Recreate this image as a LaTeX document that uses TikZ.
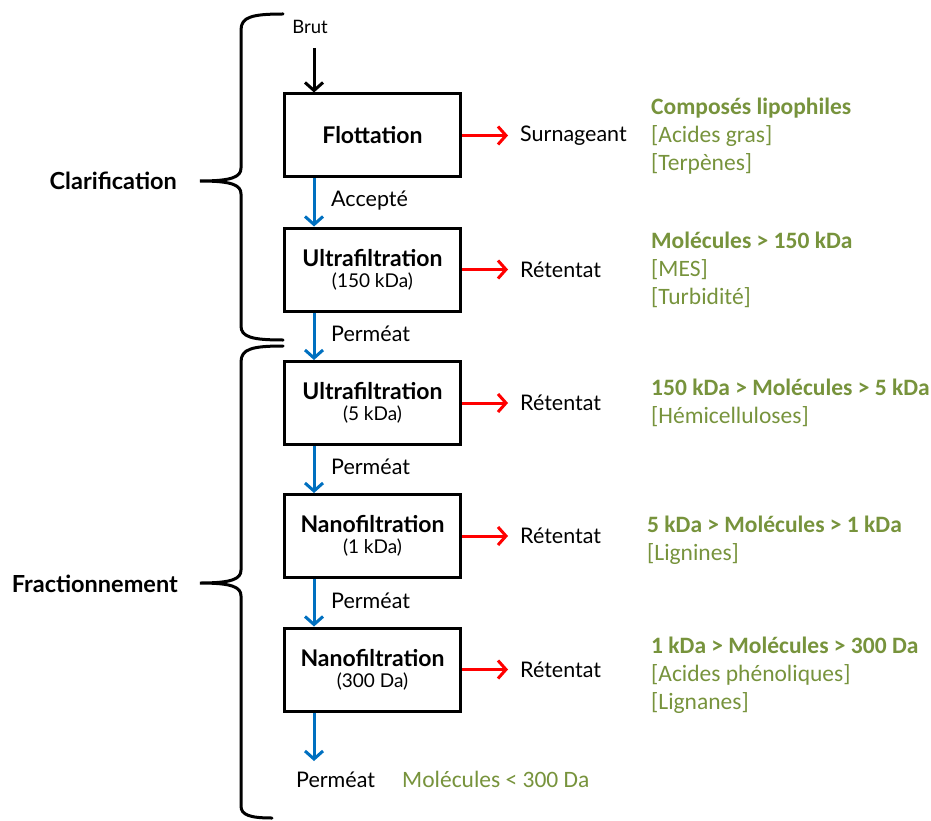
\documentclass[tikz,border=0pt]{standalone}
\usepackage{fontspec}
\setmainfont{Lato}
\newfontfamily\grfont{Carlito}
\usetikzlibrary{arrows.meta}
\definecolor{grn}{HTML}{77933C}
\definecolor{blu}{HTML}{0070C0}
\definecolor{rd}{HTML}{FF0000}
\tikzset{
  procbox/.style={draw, line width=3pt, minimum width=176pt, minimum height=83pt, align=center, inner sep=0pt},
  flowarrow/.style={line width=3pt, -{Straight Barb[length=8pt,width=18pt,line width=3pt]}},
  lbl/.style={font=\fontsize{21.5}{24}\selectfont, inner sep=0pt, anchor=west},
  grtxt/.style={font=\grfont\fontsize{23.5}{28}\selectfont, text=grn, inner sep=0pt, anchor=north west, align=left},
  brace/.style={line width=3pt, line cap=round},
  side/.style={font=\bfseries\fontsize{23.5}{26}\selectfont, inner sep=0pt}
}
\newcommand{\bt}[1]{{\bfseries\fontsize{23}{26}\selectfont #1}}
\newcommand{\st}[1]{{\fontsize{19}{22}\selectfont #1}}
\begin{document}
\begin{tikzpicture}[x=1pt,y=-1pt]
\useasboundingbox (0,0) rectangle (931,821);
% boxes
\node[procbox] (b1) at (372.5,135.5) {\bt{Flottation}};
\node[procbox] (b2) at (372.5,269.5) {\bt{Ultrafiltration}\\[5pt]\st{(150 kDa)}};
\node[procbox] (b3) at (372.5,403) {\bt{Ultrafiltration}\\[5pt]\st{(5 kDa)}};
\node[procbox] (b4) at (372.5,536) {\bt{Nanofiltration}\\[5pt]\st{(1 kDa)}};
\node[procbox] (b5) at (372.5,669.5) {\bt{Nanofiltration}\\[5pt]\st{(300 Da)}};
% input
\node[font=\fontsize{18.5}{20}\selectfont, inner sep=0pt] (brut) at (310,27) {Brut};
\coordinate (brutend) at (314,48);
\draw[flowarrow] (brutend) -- (b1.north -| brutend);
% blue arrows
\coordinate (vx) at (314,0);
\draw[flowarrow, blu] (b1.south -| vx) -- (b2.north -| vx);
\draw[flowarrow, blu] (b2.south -| vx) -- (b3.north -| vx);
\draw[flowarrow, blu] (b3.south -| vx) -- (b4.north -| vx);
\draw[flowarrow, blu] (b4.south -| vx) -- (b5.north -| vx);
\coordinate (outend) at (314,761);
\draw[flowarrow, blu] (b5.south -| vx) -- (outend);
\node[lbl] (l1) at (331,201) {Accepté};
\node[lbl] (l2) at (331,334) {Perméat};
\node[lbl] (l3) at (331,467) {Perméat};
\node[lbl] (l4) at (331,601) {Perméat};
\node[lbl] (l5) at (296,780) {Perméat};
% red arrows
\foreach \b/\t in {b1/Surnageant, b2/Rétentat, b3/Rétentat, b4/Rétentat, b5/Rétentat}{
  \node[lbl] (r\b) at ([xshift=58pt]\b.east) {\t};
  \draw[flowarrow, rd] (\b.east) -- ([xshift=-12pt]r\b.west);
}
% green texts
\node[grtxt] (g1) at (651,98) {\textbf{Composés lipophiles}\\{}[Acides gras]\\{}[Terpènes]};
\node[grtxt] (g2) at (651,232) {\textbf{Molécules > 150 kDa}\\{}[MES]\\{}[Turbidité]};
\node[grtxt] (g3) at (651,379) {\textbf{150 kDa > Molécules > 5 kDa}\\{}[Hémicelluloses]};
\node[grtxt] (g4) at (647,516) {\textbf{5 kDa > Molécules > 1 kDa}\\{}[Lignines]};
\node[grtxt] (g5) at (651,637) {\textbf{1 kDa > Molécules > 300 Da}\\{}[Acides phénoliques]\\{}[Lignanes]};
\node[grtxt, anchor=west] (g6) at (402,779) {Molécules < 300 Da};
% braces
\node[side, anchor=east] (clar) at (177,181) {Clarification};
\node[side, anchor=east] (frac) at (178,584) {Fractionnement};
\draw[brace] (283,14) .. controls (252,14) and (241,17) .. (241,30) -- (241,168)
  .. controls (241,177) and (232,181) .. (200,181)
  .. controls (232,181) and (241,185) .. (241,194) -- (241,326)
  .. controls (241,337) and (252,340) .. (283,340);
\draw[brace] (283,346) .. controls (252,346) and (241,349) .. (241,362) -- (241,570)
  .. controls (241,579) and (232,583) .. (200,583)
  .. controls (232,583) and (241,587) .. (241,596) -- (241,806)
  .. controls (241,815) and (250,818) .. (272,818);
\end{tikzpicture}
\end{document}
